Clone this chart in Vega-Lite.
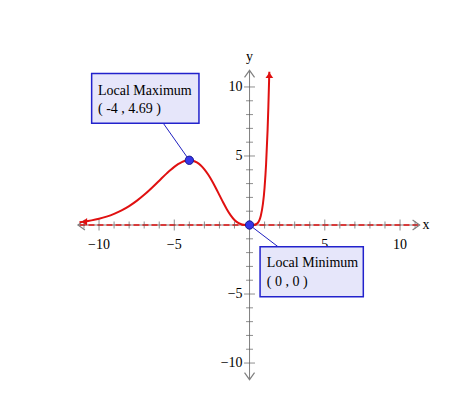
{
  "$schema": "https://vega.github.io/schema/vega-lite/v6.json",
  "width": 450,
  "height": 401,
  "autosize": {"type": "none"},
  "padding": 0,
  "background": "white",
  "config": {"view": {"stroke": null}},
  "datasets": {
    "curve": [
      {"x": -11.3, "y": 0.201}, {"x": -11, "y": 0.2445}, {"x": -10.5, "y": 0.3348}, {"x": -10, "y": 0.454},
      {"x": -9.5, "y": 0.6097}, {"x": -9, "y": 0.8097}, {"x": -8.5, "y": 1.0623}, {"x": -8, "y": 1.3742},
      {"x": -7.5, "y": 1.75}, {"x": -7, "y": 2.1894}, {"x": -6.5, "y": 2.6837}, {"x": -6, "y": 3.2125},
      {"x": -5.5, "y": 3.7397}, {"x": -5.25, "y": 3.987}, {"x": -5, "y": 4.2112}, {"x": -4.75, "y": 4.405},
      {"x": -4.5, "y": 4.5554}, {"x": -4.25, "y": 4.654}, {"x": -4, "y": 4.6888}, {"x": -3.75, "y": 4.651},
      {"x": -3.5, "y": 4.5315}, {"x": -3.25, "y": 4.326}, {"x": -3, "y": 4.0328}, {"x": -2.75, "y": 3.655},
      {"x": -2.5, "y": 3.2064}, {"x": -2.25, "y": 2.701}, {"x": -2, "y": 2.1654}, {"x": -1.75, "y": 1.63},
      {"x": -1.5, "y": 1.1296}, {"x": -1.25, "y": 0.6995}, {"x": -1, "y": 0.3679}, {"x": -0.75, "y": 0.1495},
      {"x": -0.5, "y": 0.0379}, {"x": -0.25, "y": 0.003}, {"x": 0, "y": 0}, {"x": 0.25, "y": 0.005},
      {"x": 0.5, "y": 0.103}, {"x": 0.75, "y": 0.6698}, {"x": 1, "y": 2.7183}, {"x": 1.1, "y": 4.398},
      {"x": 1.2, "y": 6.885}, {"x": 1.25, "y": 8.52}, {"x": 1.3, "y": 10.48}, {"x": 1.315, "y": 11.1}
    ],
    "axes": [
      {"x1": -11.4, "x2": 11.3, "y1": 0, "y2": 0},
      {"x1": 0, "x2": 0, "y1": -11.2, "y2": 11.2}
    ],
    "xticks": [
      {"v": -11, "kind": "minor"}, {"v": -10, "kind": "major"}, {"v": -9, "kind": "minor"}, {"v": -8, "kind": "minor"},
      {"v": -7, "kind": "minor"}, {"v": -6, "kind": "minor"}, {"v": -5, "kind": "major"}, {"v": -4, "kind": "minor"},
      {"v": -3, "kind": "minor"}, {"v": -2, "kind": "minor"}, {"v": -1, "kind": "minor"}, {"v": 1, "kind": "minor"},
      {"v": 2, "kind": "minor"}, {"v": 3, "kind": "minor"}, {"v": 4, "kind": "minor"}, {"v": 5, "kind": "major"},
      {"v": 6, "kind": "minor"}, {"v": 7, "kind": "minor"}, {"v": 8, "kind": "minor"}, {"v": 9, "kind": "minor"},
      {"v": 10, "kind": "major"}, {"v": 11, "kind": "minor"}
    ],
    "yticks": [
      {"v": -10, "kind": "major"}, {"v": -9, "kind": "minor"}, {"v": -8, "kind": "minor"},
      {"v": -7, "kind": "minor"}, {"v": -6, "kind": "minor"}, {"v": -5, "kind": "major"}, {"v": -4, "kind": "minor"},
      {"v": -3, "kind": "minor"}, {"v": -2, "kind": "minor"}, {"v": -1, "kind": "minor"}, {"v": 1, "kind": "minor"},
      {"v": 2, "kind": "minor"}, {"v": 3, "kind": "minor"}, {"v": 4, "kind": "minor"}, {"v": 5, "kind": "major"},
      {"v": 6, "kind": "minor"}, {"v": 7, "kind": "minor"}, {"v": 8, "kind": "minor"}, {"v": 9, "kind": "minor"},
      {"v": 10, "kind": "major"}
    ],
    "xlabels": [
      {"v": -10, "t": "−10"}, {"v": -5, "t": "−5"}, {"v": 5, "t": "5"}, {"v": 10, "t": "10"}
    ],
    "ylabels": [
      {"v": -10, "t": "−10"}, {"v": -5, "t": "−5"}, {"v": 5, "t": "5"}, {"v": 10, "t": "10"}
    ],
    "chevrons": [
      {"x": 11.3, "y": 0, "dir": "right"},
      {"x": -11.4, "y": 0, "dir": "left"},
      {"x": 0, "y": 11.2, "dir": "up"},
      {"x": 0, "y": -11.2, "dir": "down"}
    ],
    "redarrows": [
      {"x": -11.15, "y": 0.22, "dir": "left"},
      {"x": 1.318, "y": 11.05, "dir": "up"}
    ],
    "boxes": [
      {"x1": -10.49, "x2": -3.36, "y1": 10.98, "y2": 7.37},
      {"x1": 0.7, "x2": 7.56, "y1": -1.57, "y2": -5.2}
    ],
    "connectors": [
      {"x1": -5.73, "y1": 7.37, "x2": -4, "y2": 4.6888},
      {"x1": 1.89, "y1": -1.57, "x2": 0, "y2": 0}
    ],
    "dots": [
      {"x": -4, "y": 4.6888}, {"x": 0, "y": 0}
    ],
    "boxtext": [
      {"x": -10.07, "y": 9.42, "t": "Local Maximum"},
      {"x": -10.07, "y": 8.14, "t": "( -4 , 4.69 )"},
      {"x": 1.15, "y": -3.02, "t": "Local Minimum"},
      {"x": 1.15, "y": -4.42, "t": "( 0 , 0 )"}
    ],
    "axisnames": [
      {"x": 11.73, "y": 0, "t": "x"},
      {"x": 0, "y": 12.17, "t": "y"}
    ]
  },
  "layer": [
    {
      "data": {"name": "axes"},
      "mark": {"type": "rule", "color": "#808080", "strokeWidth": 1},
      "encoding": {
        "x": {"field": "x1", "type": "quantitative", "scale": {"domain": [-16.58, 13.32], "nice": false, "zero": false}, "axis": null},
        "x2": {"field": "x2"},
        "y": {"field": "y1", "type": "quantitative", "scale": {"domain": [-12.75, 16.3], "nice": false, "zero": false}, "axis": null},
        "y2": {"field": "y2"}
      }
    },
    {
      "data": {"values": [{"x1": -11.3, "x2": 11.2, "y": 0}]},
      "mark": {"type": "rule", "color": "#e01010", "strokeWidth": 1.5, "strokeDash": [6, 3]},
      "encoding": {
        "x": {"field": "x1", "type": "quantitative"},
        "x2": {"field": "x2"},
        "y": {"field": "y", "type": "quantitative"}
      }
    },
    {
      "data": {"name": "xticks"},
      "mark": {"type": "tick", "orient": "vertical", "color": "#606060", "thickness": 1},
      "encoding": {
        "x": {"field": "v", "type": "quantitative"},
        "y": {"datum": 0, "type": "quantitative"},
        "size": {"field": "kind", "type": "nominal", "scale": {"domain": ["major", "minor"], "range": [11, 7]}, "legend": null}
      }
    },
    {
      "data": {"name": "yticks"},
      "mark": {"type": "tick", "orient": "horizontal", "color": "#606060", "thickness": 1},
      "encoding": {
        "y": {"field": "v", "type": "quantitative"},
        "x": {"datum": 0, "type": "quantitative"},
        "size": {"field": "kind", "type": "nominal", "scale": {"domain": ["major", "minor"], "range": [11, 7]}, "legend": null}
      }
    },
    {
      "data": {"name": "xlabels"},
      "mark": {"type": "text", "font": "Liberation Serif", "fontSize": 14, "color": "#000000", "baseline": "middle", "align": "center", "dy": 20},
      "encoding": {
        "x": {"field": "v", "type": "quantitative"},
        "y": {"datum": 0, "type": "quantitative"},
        "text": {"field": "t"}
      }
    },
    {
      "data": {"name": "ylabels"},
      "mark": {"type": "text", "font": "Liberation Serif", "fontSize": 14, "color": "#000000", "baseline": "middle", "align": "right", "dx": -7},
      "encoding": {
        "y": {"field": "v", "type": "quantitative"},
        "x": {"datum": 0, "type": "quantitative"},
        "text": {"field": "t"}
      }
    },
    {
      "data": {"name": "chevrons"},
      "mark": {"type": "point", "filled": false, "stroke": "#808080", "strokeWidth": 1.2, "size": 100, "opacity": 1},
      "encoding": {
        "x": {"field": "x", "type": "quantitative"},
        "y": {"field": "y", "type": "quantitative"},
        "shape": {"field": "dir", "type": "nominal", "scale": {"domain": ["right", "left", "up", "down"], "range": ["M-1.4,-1L0,0L-1.4,1", "M1.4,-1L0,0L1.4,1", "M-1,1.4L0,0L1,1.4", "M-1,-1.4L0,0L1,-1.4"]}, "legend": null}
      }
    },
    {
      "data": {"name": "curve"},
      "mark": {"type": "line", "color": "#e01010", "strokeWidth": 2, "interpolate": "monotone"},
      "encoding": {
        "x": {"field": "x", "type": "quantitative"},
        "y": {"field": "y", "type": "quantitative"}
      }
    },
    {
      "data": {"name": "redarrows"},
      "mark": {"type": "point", "filled": true, "color": "#e01010", "size": 60, "opacity": 1},
      "encoding": {
        "x": {"field": "x", "type": "quantitative"},
        "y": {"field": "y", "type": "quantitative"},
        "shape": {"field": "dir", "type": "nominal", "scale": {"domain": ["left", "up"], "range": ["triangle-left", "triangle-up"]}, "legend": null}
      }
    },
    {
      "data": {"name": "connectors"},
      "mark": {"type": "rule", "color": "#2020c0", "strokeWidth": 1},
      "encoding": {
        "x": {"field": "x1", "type": "quantitative"},
        "x2": {"field": "x2"},
        "y": {"field": "y1", "type": "quantitative"},
        "y2": {"field": "y2"}
      }
    },
    {
      "data": {"name": "boxes"},
      "mark": {"type": "rect", "fill": "#e6e6fa", "stroke": "#2222cc", "strokeWidth": 1.5},
      "encoding": {
        "x": {"field": "x1", "type": "quantitative"},
        "x2": {"field": "x2"},
        "y": {"field": "y1", "type": "quantitative"},
        "y2": {"field": "y2"}
      }
    },
    {
      "data": {"name": "boxtext"},
      "mark": {"type": "text", "font": "Liberation Serif", "fontSize": 14, "color": "#000000", "align": "left", "baseline": "alphabetic"},
      "encoding": {
        "x": {"field": "x", "type": "quantitative"},
        "y": {"field": "y", "type": "quantitative"},
        "text": {"field": "t"}
      }
    },
    {
      "data": {"name": "dots"},
      "mark": {"type": "point", "filled": true, "fill": "#3535e8", "stroke": "#1a1a90", "strokeWidth": 1, "size": 70, "opacity": 1},
      "encoding": {
        "x": {"field": "x", "type": "quantitative"},
        "y": {"field": "y", "type": "quantitative"}
      }
    },
    {
      "data": {"name": "axisnames"},
      "mark": {"type": "text", "font": "Liberation Serif", "fontSize": 14, "color": "#000000", "align": "center", "baseline": "middle"},
      "encoding": {
        "x": {"field": "x", "type": "quantitative"},
        "y": {"field": "y", "type": "quantitative"},
        "text": {"field": "t"}
      }
    }
  ]
}
